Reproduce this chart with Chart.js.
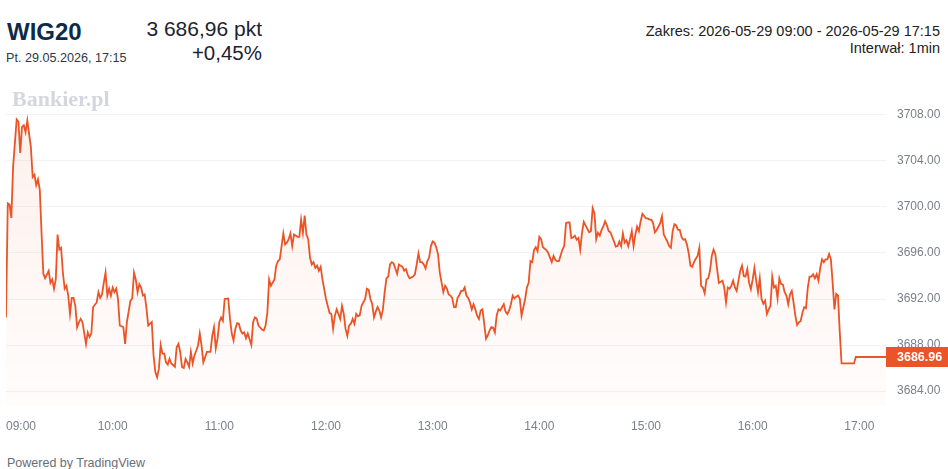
<!DOCTYPE html>
<html lang="pl">
<head>
<meta charset="utf-8">
<title>WIG20</title>
<script src="https://cdn.jsdelivr.net/npm/chart.js@4.4.1/dist/chart.umd.min.js"></script>
<style>
  html, body { margin: 0; padding: 0; background: #fff; }
  body { width: 948px; height: 469px; position: relative; overflow: hidden; font-family: "Liberation Sans", Arial, sans-serif; }
  .t { position: absolute; line-height: 1; white-space: nowrap; }
  #name { left: 7px; top: 19.6px; font-size: 24px; font-weight: bold; color: #0e2a47; }
  #date { left: 6px; top: 51.5px; font-size: 12.6px; color: #303846; }
  #price { right: 686px; top: 17.6px; font-size: 21px; color: #1d2330; }
  #change { right: 686px; top: 42.8px; font-size: 20.5px; color: #1d2330; }
  #range { right: 8px; top: 24px; font-size: 14.5px; color: #222; }
  #interval { right: 8px; top: 41px; font-size: 14.5px; color: #222; }
  #logo { left: 12px; top: 87.6px; font-family: "Liberation Serif", serif; font-weight: bold; font-size: 22px; color: #d3d7de; }
  #powered { left: 7px; top: 457px; font-size: 12.5px; color: #6a6d78; }
  #wrap { position: absolute; left: 0; top: 90px; width: 948px; height: 350px; }
</style>
</head>
<body>
<div class="t" id="name">WIG20</div>
<div class="t" id="date">Pt. 29.05.2026, 17:15</div>
<div class="t" id="price">3 686,96 pkt</div>
<div class="t" id="change">+0,45%</div>
<div class="t" id="range">Zakres: 2026-05-29 09:00 - 2026-05-29 17:15</div>
<div class="t" id="interval">Interwał: 1min</div>
<div id="wrap"><canvas id="chart"></canvas></div>
<div class="t" id="logo">Bankier.pl</div>
<div class="t" id="powered">Powered by TradingView</div>
<script>
// minutes after 09:00 and index value (1 min interval)
const minutes = [
  0, 1, 2, 3, 4, 6, 7, 8, 9, 10, 11, 12, 14, 15, 16, 17, 18, 19, 20, 21, 22, 24, 25, 26, 27, 28, 29, 30,
  31, 32, 33, 34, 35, 36, 37, 38, 39, 40, 41, 42, 43, 45, 46, 47, 48, 49, 51, 52, 53, 54, 55, 56, 57, 58, 59,
  60, 61, 62, 63, 64, 66, 67, 68, 70, 71, 72, 73, 74, 75, 76, 77, 78, 79, 80, 82, 83, 84, 85, 86, 87, 88, 89,
  90, 91, 92, 93, 95, 96, 97, 98, 99, 100, 101, 102, 103, 104, 105, 106, 107, 108, 109, 110, 111, 113, 114,
  115, 116, 117, 118, 119,
  120, 121, 122, 123, 125, 126, 127, 128, 129, 130, 131, 132, 133, 134, 135, 136, 138, 139, 140, 141, 142,
  144, 145, 146, 147, 148, 149, 151, 152, 153, 154, 156, 157, 158, 159, 160, 161, 162, 164, 165, 166, 167,
  168, 169, 170, 171, 172, 173, 174, 175, 176, 177, 178,
  180, 181, 182, 183, 184, 185, 186, 187, 188, 189, 190, 191, 192, 193, 194, 195, 196, 197, 198, 199, 200,
  202, 203, 204, 205, 206, 207, 208, 209, 210, 211, 212, 213, 214, 215, 216, 217, 218, 219, 220, 221, 222,
  223, 224, 225, 226, 227, 229, 230, 231, 232, 233, 234, 235, 236, 237, 238, 239,
  240, 241, 242, 243, 244, 246, 247, 248, 249, 250, 251, 252, 253, 254, 255, 256, 257, 258, 259, 260, 261,
  262, 263, 264, 265, 266, 267, 268, 269, 270, 271, 272, 273, 274, 275, 276, 277, 278, 280, 281, 282, 283,
  284, 285, 286, 287, 288, 289, 290, 292, 293, 294, 295, 296, 297, 298, 299,
  300, 301, 302, 304, 305, 306, 307, 308, 309, 310, 311, 313, 314, 315, 316, 317, 318, 319, 320, 321, 322,
  323, 324, 325, 326, 328, 329, 330, 331, 332, 333, 334, 335, 336, 337, 338, 339, 340, 342, 343, 344, 345,
  346, 347, 348, 349, 350, 351, 352, 353, 354, 355, 356, 357, 358,
  360, 361, 362, 363, 364, 365, 366, 367, 368, 369, 370, 371, 372, 373, 374, 375, 376, 377, 378, 379, 380,
  381, 382, 383, 384, 385, 386, 387, 388, 389, 390, 391, 392, 393, 394, 395, 396, 397, 398, 399, 400, 401,
  403, 404, 405, 406, 407, 408, 409, 410, 411, 412, 413, 414, 415, 416, 417, 418, 419,
  420, 421, 422, 423, 424, 425, 426, 427, 428, 429, 430, 431, 432, 433, 434, 435, 436, 437, 438, 439, 440,
  441, 442, 443, 444, 445, 446, 447, 448, 449, 450, 451, 452, 453, 454, 455, 456, 457, 458, 459, 460, 461,
  462, 463, 464, 465, 466, 467, 468, 469, 470, 477, 478, 495
];
const values = [
  3690.4, 3700.3, 3700.2, 3699.05, 3703.5, 3707.6, 3707.4, 3704.7, 3706.96, 3707.1, 3706.5, 3707.5, 3705.2,
  3702.6, 3702.8, 3701.9, 3702.4, 3701.5, 3697.75, 3694.2, 3693.8, 3694.45, 3693.4, 3693.7, 3692.9, 3693.7,
  3697.6, 3696.3, 3696.45, 3694.3, 3692.9, 3693.15, 3692.3, 3690.7, 3692.1, 3692.1, 3691.4, 3689.55, 3689.98,
  3690.27, 3690.0, 3688.1, 3689.1, 3688.7, 3689.0, 3691.3, 3691.7, 3692.6, 3692.1, 3692.4, 3693.4, 3694.3,
  3692.3, 3692.9, 3692.3,
  3693.0, 3692.6, 3692.9, 3692.0, 3689.7, 3689.55, 3688.1, 3690.0, 3691.85, 3692.05, 3694.3, 3693.7, 3692.6,
  3693.3, 3693.0, 3692.3, 3692.4, 3691.2, 3689.7, 3690.0, 3687.1, 3685.65, 3685.2, 3685.95, 3688.0, 3687.25,
  3687.25, 3686.5, 3686.3, 3686.8, 3686.4, 3686.1, 3687.8, 3688.1, 3687.4, 3686.1, 3686.0, 3686.8, 3686.5,
  3686.1, 3687.4, 3686.4, 3687.1, 3687.5, 3687.95, 3689.0, 3687.95, 3686.5, 3687.4, 3687.4, 3687.4, 3688.8,
  3689.55, 3687.7, 3688.55,
  3690.0, 3690.4, 3690.1, 3692.0, 3692.05, 3690.27, 3689.0, 3688.4, 3689.4, 3689.9, 3689.85, 3689.26, 3689.0,
  3689.1, 3688.6, 3689.0, 3688.0, 3690.0, 3690.4, 3690.3, 3689.7, 3689.35, 3689.26, 3689.7, 3690.8, 3693.7,
  3693.15, 3693.7, 3694.9, 3695.3, 3695.45, 3697.7, 3696.75, 3696.9, 3697.2, 3697.7, 3696.6, 3697.6, 3697.4,
  3697.4, 3698.9, 3697.75, 3699.25, 3697.6, 3697.2, 3695.6, 3695.0, 3695.2, 3694.7, 3694.9, 3694.45, 3694.8,
  3693.7,
  3692.0, 3691.4, 3690.8, 3690.7, 3689.4, 3690.55, 3691.1, 3690.7, 3690.27, 3691.4, 3690.7, 3689.4, 3688.8,
  3689.7, 3689.85, 3690.27, 3689.85, 3690.7, 3690.5, 3690.6, 3691.4, 3692.0, 3692.9, 3692.8, 3692.0, 3691.55,
  3690.4, 3690.9, 3691.3, 3691.0, 3690.4, 3691.1, 3692.6, 3693.8, 3693.95, 3695.0, 3695.2, 3695.1, 3694.65,
  3694.2, 3695.0, 3694.9, 3694.8, 3694.45, 3694.6, 3694.1, 3693.8, 3693.95, 3694.15, 3695.0, 3695.97, 3695.2,
  3695.2, 3695.0, 3694.65, 3695.3, 3695.6, 3696.6,
  3697.0, 3696.9, 3696.5, 3695.9, 3694.3, 3692.6, 3693.15, 3692.9, 3692.4, 3692.3, 3692.1, 3691.3, 3691.3,
  3692.1, 3692.35, 3692.7, 3692.7, 3693.0, 3692.3, 3692.1, 3691.7, 3691.1, 3691.55, 3691.1, 3690.55, 3690.27,
  3691.0, 3691.1, 3689.85, 3688.55, 3688.85, 3689.26, 3689.55, 3689.5, 3689.1, 3690.55, 3691.1, 3691.0,
  3691.55, 3690.9, 3690.7, 3691.0, 3691.55, 3692.3, 3692.05, 3692.2, 3692.3, 3692.05, 3690.55, 3692.0, 3693.0,
  3693.4, 3695.3, 3695.2, 3696.25, 3696.5, 3696.15,
  3697.4, 3697.2, 3696.5, 3696.25, 3696.0, 3695.6, 3695.2, 3695.75, 3695.4, 3695.3, 3695.3, 3696.3, 3696.6,
  3698.6, 3698.65, 3698.65, 3697.3, 3697.35, 3697.5, 3697.15, 3697.3, 3696.3, 3697.75, 3698.7, 3698.4, 3697.8,
  3697.9, 3699.9, 3699.45, 3697.2, 3697.75, 3697.5, 3698.0, 3698.3, 3698.76, 3698.4, 3697.9, 3697.8, 3697.0,
  3696.55, 3696.6, 3697.0, 3696.6, 3697.7, 3696.9, 3697.1, 3696.6, 3697.2, 3697.9, 3696.6, 3697.6, 3698.3,
  3697.9, 3698.76, 3699.4,
  3699.0, 3699.0, 3698.9, 3698.9, 3698.6, 3697.8, 3698.0, 3698.3, 3698.6, 3699.2, 3697.6, 3697.3, 3697.0,
  3696.6, 3696.45, 3697.9, 3698.5, 3698.4, 3698.0, 3698.0, 3697.4, 3697.15, 3697.2, 3696.75, 3696.0, 3694.9,
  3694.8, 3695.2, 3695.5, 3695.75, 3696.45, 3693.15, 3693.0, 3692.5, 3693.7, 3693.8, 3694.45, 3695.75, 3696.3,
  3695.9, 3694.6, 3693.4, 3693.6, 3693.0, 3691.7, 3693.0, 3692.9, 3693.15, 3693.6, 3693.0, 3692.7, 3693.6,
  3694.45, 3694.9, 3694.0, 3693.95, 3694.6, 3693.4, 3692.85,
  3693.7, 3694.7, 3693.6, 3692.6, 3693.8, 3692.0, 3691.6, 3691.85, 3690.7, 3691.1, 3691.4, 3693.95, 3693.0,
  3693.15, 3692.05, 3693.8, 3693.3, 3693.25, 3692.6, 3692.3, 3691.55, 3692.4, 3692.7, 3691.7, 3690.55, 3689.75,
  3689.98, 3690.1, 3690.8, 3691.3, 3691.2, 3693.0, 3693.95, 3693.95, 3694.15, 3693.8, 3694.15, 3693.6, 3694.7,
  3695.45, 3695.2, 3695.45, 3695.45, 3695.9, 3695.45, 3693.4, 3691.1, 3692.45, 3692.3, 3689.1, 3686.4, 3686.4,
  3686.96, 3686.96
];

// axis ticks
const xTickMinutes = [0, 60, 120, 180, 240, 300, 360, 420, 480];
const xTickLabels = ['09:00', '10:00', '11:00', '12:00', '13:00', '14:00', '15:00', '16:00', '17:00'];
const xEnd = 495; // 17:15
const yTicks = [3684, 3688, 3692, 3696, 3700, 3704, 3708];
const yMin = 3682.79;
const yMax = 3709.38;

const lineColor = '#ea5426';

const points = minutes.map((m, i) => ({ x: m, y: values[i] }));

// no extra padding from the scales, the layout padding decides the plot box
function noScalePadding(scale) {
    scale.paddingTop = 0;
    scale.paddingBottom = 0;
    scale.paddingLeft = 0;
    scale.paddingRight = 0;
}

// last price box on the right axis
const lastPriceLabel = {
    id: 'lastPriceLabel',
    afterDraw(chart) {
        const ctx = chart.ctx;
        const last = values[values.length - 1];
        const y = chart.scales.y.getPixelForValue(last);
        const left = chart.chartArea.right;
        ctx.save();
        ctx.fillStyle = lineColor;
        ctx.fillRect(left, Math.round(y) - 10, chart.width - left, 20);
        ctx.fillStyle = '#fff';
        ctx.font = 'bold 12.5px "Liberation Sans", Arial, sans-serif';
        ctx.textBaseline = 'middle';
        ctx.textAlign = 'left';
        ctx.fillText(last.toFixed(2), left + 11, Math.round(y) + 0.5);
        ctx.restore();
    }
};

const ctx = document.getElementById('chart').getContext('2d');
new Chart(ctx, {
    type: 'line',
    data: {
        datasets: [{
            data: points,
            borderColor: lineColor,
            borderWidth: 1.8,
            pointRadius: 0,
            tension: 0,
            fill: 'start',
            backgroundColor: function(context) {
                const area = context.chart.chartArea;
                if (!area) return 'rgba(234,84,38,0.05)';
                const g = context.chart.ctx.createLinearGradient(0, area.top, 0, area.bottom);
                g.addColorStop(0, 'rgba(234,84,38,0.09)');
                g.addColorStop(1, 'rgba(234,84,38,0.015)');
                return g;
            }
        }]
    },
    options: {
        responsive: true,
        maintainAspectRatio: false,
        animation: false,
        layout: { padding: { left: 6, top: 9, right: 0, bottom: 0 } },
        plugins: {
            legend: { display: false },
            tooltip: { enabled: false }
        },
        scales: {
            x: {
                type: 'linear',
                min: 0,
                max: xEnd,
                border: { display: false },
                grid: { display: false },
                afterBuildTicks: function(scale) {
                    scale.ticks = xTickMinutes.concat([xEnd]).map(v => ({ value: v }));
                },
                afterFit: function(scale) {
                    scale.height = 35;
                    noScalePadding(scale);
                },
                ticks: {
                    autoSkip: false,
                    maxRotation: 0,
                    align: 'inner',
                    padding: 6,
                    color: '#7b7f89',
                    font: { family: '"Liberation Sans", Arial, sans-serif', size: 12 },
                    callback: function(value) {
                        const i = xTickMinutes.indexOf(value);
                        return i >= 0 ? xTickLabels[i] : '';
                    }
                }
            },
            y: {
                position: 'right',
                min: yMin,
                max: yMax,
                border: { display: false },
                grid: { color: 'rgba(42,46,57,0.06)', drawTicks: false },
                afterBuildTicks: function(scale) {
                    scale.ticks = yTicks.map(v => ({ value: v }));
                },
                afterFit: function(scale) {
                    scale.width = 62;
                    noScalePadding(scale);
                },
                ticks: {
                    padding: 11,
                    color: '#7b7f89',
                    font: { family: '"Liberation Sans", Arial, sans-serif', size: 12 },
                    callback: function(value) { return value.toFixed(2); }
                }
            }
        }
    },
    plugins: [lastPriceLabel]
});
</script>
</body>
</html>
